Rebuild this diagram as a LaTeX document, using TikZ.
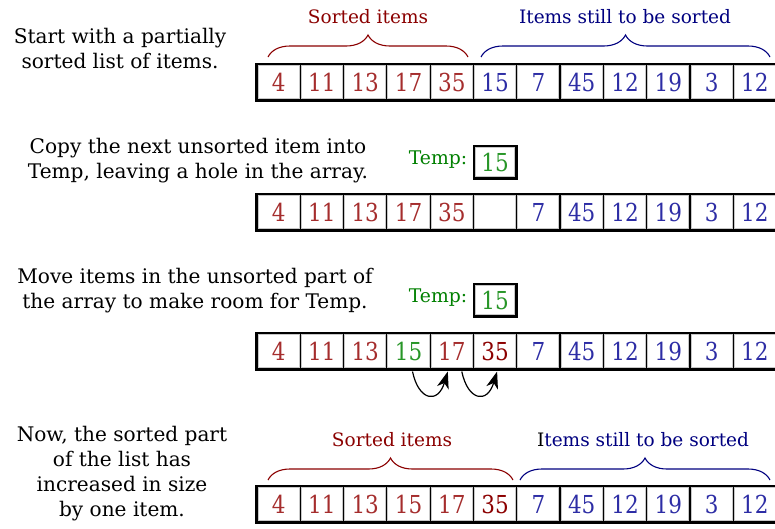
\documentclass[tikz,border=0pt]{standalone}
\usepackage{fontspec}
\setmainfont{DejaVu Serif}
\usetikzlibrary{arrows.meta,decorations.pathreplacing,calc,backgrounds}
\definecolor{sred}{RGB}{165,45,45}
\definecolor{dred}{RGB}{140,0,0}
\definecolor{bred}{RGB}{139,0,0}
\definecolor{sblue}{RGB}{45,45,165}
\definecolor{bblue}{RGB}{0,0,128}
\definecolor{sgreen}{RGB}{40,150,40}
\definecolor{tgreen}{RGB}{0,128,0}
\newcommand{\cnum}[1]{\scalebox{1}[1.15]{#1}}
\tikzset{
  cell/.style={draw=black, line width=3pt, fill=white, minimum width=43.3pt,
    minimum height=36pt, inner sep=0pt, font=\fontsize{21.5}{21}\selectfont},
  tempbox/.style={draw=black, line width=3pt, fill=white, minimum width=42pt,
    minimum height=32pt, inner sep=0pt, font=\fontsize{21.5}{21}\selectfont},
  desc/.style={align=center, font=\fontsize{20.1}{25}\selectfont, inner sep=0pt},
  lbl/.style={font=\fontsize{18.5}{20}\selectfont, inner sep=0pt},
  templbl/.style={font=\fontsize{18.8}{20}\selectfont, text=tgreen, inner sep=0pt, anchor=east},
  brc/.style={line width=1.1pt, decorate, decoration={brace, amplitude=22pt}},
  bevel/.style={black!22, line width=1pt},
  shade/.style={fill=black!35},
  mover/.style={line width=1.2pt, -{Stealth[length=17pt,width=12pt,inset=5pt]}}
}
\begin{document}
\begin{tikzpicture}[x=1pt,y=-1pt]
\clip (0,0) rectangle (775,528);
\fill[white] (0,0) rectangle (775,528);

% ---------- row 1 ----------
\foreach \v/\c [count=\i from 0] in {4/sred,11/sred,13/sred,17/sred,35/sred,15/sblue,7/sblue,45/sblue,12/sblue,19/sblue,3/sblue,12/sblue}
  \node[cell, text=\c] (r1c\i) at ({278.6+43.3*\i},82) {\cnum{\v}};
% ---------- row 2 ----------
\foreach \v/\c [count=\i from 0] in {4/sred,11/sred,13/sred,17/sred,35/sred,{}/sblue,7/sblue,45/sblue,12/sblue,19/sblue,3/sblue,12/sblue}
  \node[cell, text=\c] (r2c\i) at ({278.6+43.3*\i},212) {\cnum{\v}};
% ---------- row 3 ----------
\foreach \v/\c [count=\i from 0] in {4/sred,11/sred,13/sred,15/sgreen,17/sred,35/dred,7/sblue,45/sblue,12/sblue,19/sblue,3/sblue,12/sblue}
  \node[cell, text=\c] (r3c\i) at ({278.6+43.3*\i},351) {\cnum{\v}};
% ---------- row 4 ----------
\foreach \v/\c [count=\i from 0] in {4/sred,11/sred,13/sred,15/sred,17/sred,35/dred,7/sblue,45/sblue,12/sblue,19/sblue,3/sblue,12/sblue}
  \node[cell, text=\c] (r4c\i) at ({278.6+43.3*\i},504) {\cnum{\v}};

% bevels
\foreach \r in {1,2,3,4}
  \foreach \i in {0,...,11}
    \draw[bevel] ($(r\r c\i.south west)+(2.6,-2.6)$) rectangle ($(r\r c\i.north east)+(-2.6,2.6)$);

% temp boxes
\node[tempbox, text=sgreen] (t2) at (495,162) {\cnum{15}};
\node[tempbox, text=sgreen] (t3) at (495,300) {\cnum{15}};
\draw[bevel] ($(t2.south west)+(2.6,-2.6)$) rectangle ($(t2.north east)+(-2.6,2.6)$);
\draw[bevel] ($(t3.south west)+(2.6,-2.6)$) rectangle ($(t3.north east)+(-2.6,2.6)$);
\node[templbl] (tl2) at ($(t2.west)+(-5,-2)$) {Temp:};
\node[templbl] (tl3) at ($(t3.west)+(-5,-2)$) {Temp:};

% shadows
\begin{scope}[on background layer]
  \foreach \r in {1,2,3,4}
    \fill[shade] ($(r\r c0.north west)+(2,3)$) rectangle ($(r\r c11.south east)+(4,3.5)$);
  \fill[shade] ($(t2.north west)+(2,3)$) rectangle ($(t2.south east)+(3,3.5)$);
  \fill[shade] ($(t3.north west)+(2,3)$) rectangle ($(t3.south east)+(3,3.5)$);
\end{scope}

% descriptions
\node[desc] (d1) at (120,48.5) {Start with a partially\\sorted list of items.};
\node[desc] (d2) at (198,161) {Copy the next unsorted item into\\Temp, leaving a hole in the array.};
\node[desc] (d3) at (195,291) {Move items in the unsorted part of\\the array to make room for Temp.};
\node[desc] (d4) at (122,474) {Now, the sorted part\\of the list has\\increased in size\\by one item.};

% braces and labels row 1
\draw[brc, bred] (268,57) -- (468,57);
\draw[brc, bblue] (481,57) -- (770,57);
\node[lbl, text=bred] (s1) at (368,17) {Sorted items};
\node[lbl, text=bblue] (u1) at (625,17) {Items still to be sorted};

% braces and labels row 4
\draw[brc, bred] (268,480) -- (513,480);
\draw[brc, bblue] (520,480) -- (770,480);
\node[lbl, text=bred] (s4) at (392,440) {Sorted items};
\node[lbl, text=bblue] (u4) at (643,440) {{\color{black}I}tems still to be sorted};

% moving arrows
\draw[mover] ($(r3c3.south)+(4,1)$) .. controls ($(r3c3.south)+(10,30)$) and ($(r3c4.south)+(-14,34)$) .. ($(r3c4.south)+(-4,1)$);
\draw[mover] ($(r3c4.south)+(10,1)$) .. controls ($(r3c4.south)+(16,30)$) and ($(r3c5.south)+(-8,34)$) .. ($(r3c5.south)+(2,1)$);
\end{tikzpicture}
\end{document}
